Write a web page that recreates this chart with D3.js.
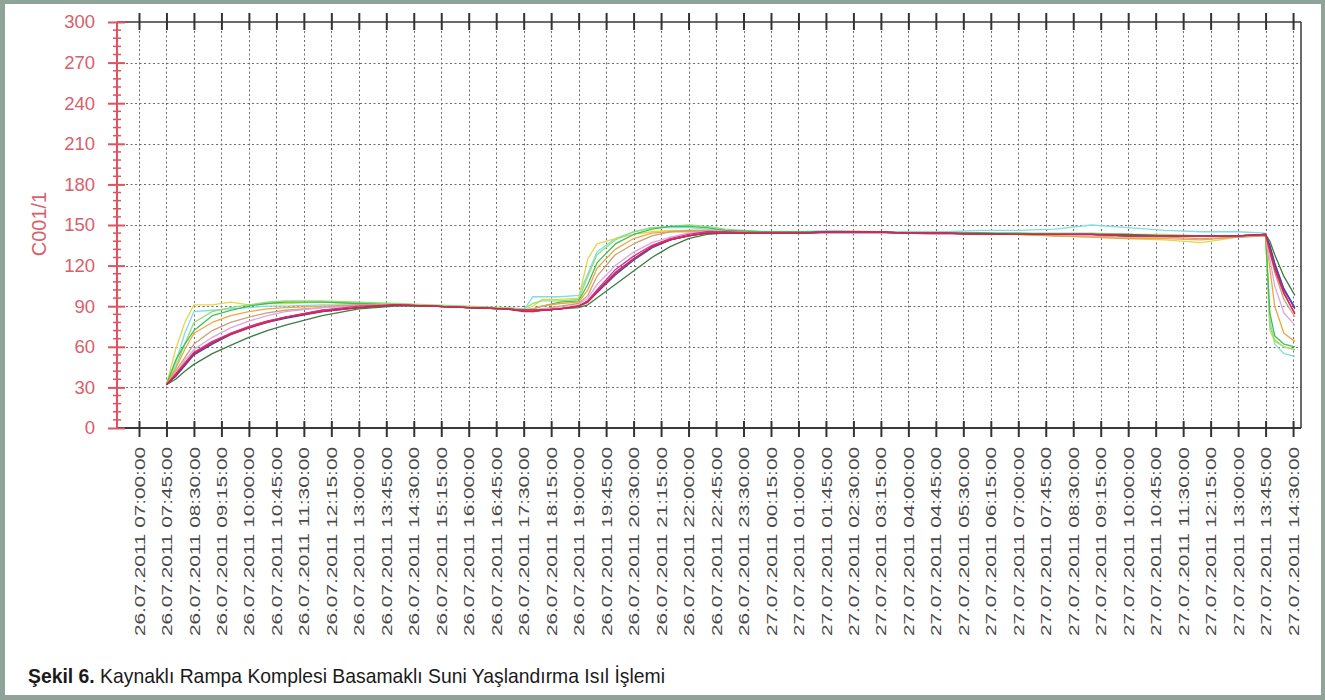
<!DOCTYPE html>
<html>
<head>
<meta charset="utf-8">
<script src="https://cdn.jsdelivr.net/npm/d3@7"></script>
<style>
  html, body { margin: 0; padding: 0; background: #ffffff; }
  svg { display: block; }
</style>
</head>
<body>
<svg id="chart" width="1325" height="700"></svg>
<script>
// ---------- DATA ----------
const yTickValues = [0, 30, 60, 90, 120, 150, 180, 210, 240, 270, 300];
const yAxisTitle = "C001/1";
const caption = ["Şekil 6.", " Kaynaklı Rampa Komplesi Basamaklı Suni Yaşlandırma Isıl İşlemi"];

const xTickLabels = [
  "26.07.2011 07:00:00","26.07.2011 07:45:00","26.07.2011 08:30:00","26.07.2011 09:15:00",
  "26.07.2011 10:00:00","26.07.2011 10:45:00","26.07.2011 11:30:00","26.07.2011 12:15:00",
  "26.07.2011 13:00:00","26.07.2011 13:45:00","26.07.2011 14:30:00","26.07.2011 15:15:00",
  "26.07.2011 16:00:00","26.07.2011 16:45:00","26.07.2011 17:30:00","26.07.2011 18:15:00",
  "26.07.2011 19:00:00","26.07.2011 19:45:00","26.07.2011 20:30:00","26.07.2011 21:15:00",
  "26.07.2011 22:00:00","26.07.2011 22:45:00","26.07.2011 23:30:00","27.07.2011 00:15:00",
  "27.07.2011 01:00:00","27.07.2011 01:45:00","27.07.2011 02:30:00","27.07.2011 03:15:00",
  "27.07.2011 04:00:00","27.07.2011 04:45:00","27.07.2011 05:30:00","27.07.2011 06:15:00",
  "27.07.2011 07:00:00","27.07.2011 07:45:00","27.07.2011 08:30:00","27.07.2011 09:15:00",
  "27.07.2011 10:00:00","27.07.2011 10:45:00","27.07.2011 11:30:00","27.07.2011 12:15:00",
  "27.07.2011 13:00:00","27.07.2011 13:45:00","27.07.2011 14:30:00"
];
const xDomain = ["26.07.2011 06:24:00", "27.07.2011 14:43:00"];

const sampleTimes = [
  "26.07.2011 07:45","26.07.2011 08:00","26.07.2011 08:15","26.07.2011 08:30","26.07.2011 09:00",
  "26.07.2011 09:30","26.07.2011 10:00","26.07.2011 10:30","26.07.2011 11:00","26.07.2011 12:00",
  "26.07.2011 13:00","26.07.2011 14:00","26.07.2011 15:00","26.07.2011 16:00","26.07.2011 17:00",
  "26.07.2011 17:30","26.07.2011 17:45","26.07.2011 18:00","26.07.2011 18:30","26.07.2011 19:00",
  "26.07.2011 19:15","26.07.2011 19:30","26.07.2011 20:00","26.07.2011 20:30","26.07.2011 21:00",
  "26.07.2011 21:30","26.07.2011 22:00","26.07.2011 22:30","26.07.2011 23:00","27.07.2011 00:00",
  "27.07.2011 01:00","27.07.2011 02:00","27.07.2011 03:00","27.07.2011 04:00","27.07.2011 05:00",
  "27.07.2011 06:00","27.07.2011 07:00","27.07.2011 08:00","27.07.2011 09:00","27.07.2011 10:00",
  "27.07.2011 11:00","27.07.2011 12:00","27.07.2011 13:00","27.07.2011 13:45","27.07.2011 13:52",
  "27.07.2011 14:00","27.07.2011 14:15","27.07.2011 14:33"
];

const cyan = [32,48,70,86,87,88,89,90,90,91,91,91,90,89,88,87,97,97,97,98,114,130,140,145,148,148,148,147,146,145,145,146,145,145,145,146,146,147,150,148,146,145,145,144,80,62,55,53];
const yellow = [32,58,78,91,91,93,91,92,92,93,92,91,90,89,88,87,90,95,95,96,125,136,140,143,145,146,146,146,145,144,144,145,145,144,144,144,143,142,141,140,139,137,141,143,72,64,60,58];
const lightGreen = [32,45,62,78,86,89,91,93,94,94,93,92,91,90,89,88,92,94,94,95,112,128,139,145,148,149,150,149,147,145,145,145,144,144,144,144,144,144,144,143,143,142,142,143,75,65,60,58];
const green = [32,50,62,72,83,87,90,92,93,93,92,91,90,89,88,87,88,90,93,94,106,122,136,143,147,149,149,148,146,145,145,145,145,144,144,144,144,143,143,143,142,142,142,143,85,68,62,60];
const orange = [32,44,58,70,78,83,86,88,89,90,91,91,90,89,88,87,88,90,92,93,102,118,132,140,144,145,145,145,145,144,144,144,144,144,143,143,143,142,141,140,140,139,141,142,118,90,70,64];
const tan = [32,42,52,62,72,78,82,85,87,89,91,91,90,89,88,87,87,88,90,92,98,112,128,136,142,145,146,146,145,144,144,144,144,144,143,143,143,142,142,141,141,140,141,142,130,115,95,82];
const lavender = [32,40,50,58,67,74,79,83,86,89,90,91,90,89,88,87,87,88,89,91,96,106,120,130,137,141,144,145,145,144,144,144,144,144,143,143,143,143,142,142,142,142,142,143,125,105,85,76];
const darkGreen = [32,36,42,47,55,61,67,72,76,83,88,90,90,89,88,87,86,87,88,89,91,96,106,116,126,134,140,143,144,144,144,145,145,144,144,144,143,143,143,143,142,142,142,143,138,128,112,98];
const purple = [32,39,47,55,63,70,75,79,82,87,89,91,90,89,88,87,87,87,88,90,94,101,115,125,134,139,142,144,144,144,144,145,145,144,144,143,143,143,143,142,142,142,142,143,134,121,102,88];
const blue = [32,38,46,54,62,69,74,78,81,86,89,91,90,89,88,87,87,87,88,90,93,100,113,124,133,139,142,144,144,144,144,145,145,144,144,143,143,143,143,142,142,142,142,143,135,122,103,89];
const magenta = [32,40,48,56,64,70,75,79,82,87,90,91,90,89,88,87,87,87,88,90,94,102,117,127,135,140,143,145,145,144,144,145,145,144,144,143,143,143,143,142,142,142,142,143,130,117,99,85];
const red = [32,39,47,55,63,69,74,78,82,86,89,91,90,89,88,86,86,87,88,90,93,100,114,125,134,139,142,144,144,144,144,145,145,144,144,143,143,143,143,142,142,142,142,143,132,119,100,84];

const seriesNames = ["cyan","yellow","lightGreen","green","orange","tan","lavender","darkGreen","purple","blue","magenta","red"];
const seriesValues = [cyan, yellow, lightGreen, green, orange, tan, lavender, darkGreen, purple, blue, magenta, red];
const seriesColors = ["#7fdde6","#e6d64c","#8fe07a","#3fbf55","#f0a640","#c9a276","#dca6e4","#3c7c44","#8a3fa6","#3346c4","#d62f94","#e3232f"];

// ---------- CHART ----------
const W = 1325, H = 700;
const svg = d3.select("#chart");
const plot = { left: 117, right: 1301, top: 22, bottom: 428 };

// frame
svg.append("rect").attr("x", 0).attr("y", 0).attr("width", W).attr("height", H).attr("fill", "#8fa399");
svg.append("rect").attr("x", 5).attr("y", 4).attr("width", W - 9).attr("height", H - 9).attr("fill", "#ffffff");

const pTime = d3.timeParse("%d.%m.%Y %H:%M:%S");
const pSample = d3.timeParse("%d.%m.%Y %H:%M");

const x = d3.scaleTime().domain(xDomain.map(pTime)).range([plot.left, plot.right]);
const y = d3.scaleLinear().domain([0, 300]).range([plot.bottom, plot.top]);

const tickDates = xTickLabels.map(pTime);

// grid
const grid = svg.append("g").attr("stroke", "#6d6d6d").attr("stroke-width", 1).attr("stroke-dasharray", "2,2.5");
grid.selectAll("line.v").data(tickDates).join("line").attr("class", "v")
  .attr("x1", d => Math.round(x(d)) + 0.5).attr("x2", d => Math.round(x(d)) + 0.5)
  .attr("y1", plot.top).attr("y2", plot.bottom);
grid.selectAll("line.h").data(yTickValues.filter(v => v > 0 && v < 300)).join("line").attr("class", "h")
  .attr("x1", plot.left).attr("x2", plot.right)
  .attr("y1", d => Math.round(y(d)) + 0.5).attr("y2", d => Math.round(y(d)) + 0.5);

// frame lines (top, bottom, right)
const frame = svg.append("g").attr("stroke", "#3a3a3a");
frame.append("line").attr("x1", plot.left).attr("x2", plot.right).attr("y1", plot.top).attr("y2", plot.top).attr("stroke-width", 1.5);
frame.append("line").attr("x1", plot.left).attr("x2", plot.right).attr("y1", plot.bottom).attr("y2", plot.bottom).attr("stroke-width", 2);
frame.append("line").attr("x1", plot.right).attr("x2", plot.right).attr("y1", plot.top).attr("y2", plot.bottom).attr("stroke-width", 1.5);

// series lines
const line = d3.line()
  .x((d, i) => x(pSample(sampleTimes[i])))
  .y(d => y(d));
const lines = svg.append("g").attr("fill", "none").attr("stroke-width", 1.3).attr("stroke-linejoin", "round");
seriesValues.forEach((vals, k) => {
  lines.append("path").datum(vals).attr("d", line).attr("stroke", seriesColors[k]).attr("class", seriesNames[k]);
});

// x axis ticks top & bottom
const xTop = d3.axisTop(x).tickValues(tickDates).tickSize(8).tickFormat("");
const gTop = svg.append("g").attr("transform", `translate(0,${plot.top})`).call(xTop);
gTop.select(".domain").remove();
gTop.selectAll(".tick line").attr("stroke", "#333").attr("stroke-width", 2).attr("y1", 8).attr("y2", -9);

const xBot = d3.axisBottom(x).tickValues(tickDates).tickSize(9).tickFormat("");
const gBot = svg.append("g").attr("transform", `translate(0,${plot.bottom})`).call(xBot);
gBot.select(".domain").remove();
gBot.selectAll(".tick line").attr("stroke", "#333").attr("stroke-width", 2).attr("y1", -7).attr("y2", 9);

// x labels
const xl = svg.append("g");
tickDates.forEach((d, i) => {
  const g = xl.append("g").attr("transform", `translate(${x(d)},447) rotate(-90)`);
  g.append("text")
    .attr("text-anchor", "end").attr("dy", "0.36em")
    .attr("font-family", "Arial, 'Liberation Sans', sans-serif").attr("font-size", 15.5)
    .attr("fill", "#4a4a4a")
    .attr("textLength", 189).attr("lengthAdjust", "spacingAndGlyphs")
    .text(xTickLabels[i]);
});

// y axis (red)
const red1 = "#e0525f";
const yAxis = d3.axisLeft(y).tickValues(yTickValues).tickSize(9).tickPadding(13);
const gY = svg.append("g").attr("transform", `translate(${plot.left},0)`).call(yAxis);
gY.select(".domain").attr("stroke", red1).attr("stroke-width", 2).attr("d", `M0,${plot.top}V${plot.bottom}`);
gY.selectAll(".tick line").attr("stroke", red1).attr("stroke-width", 2).attr("x1", 8).attr("x2", -9);
gY.selectAll(".tick text").attr("fill", "#d8606b").attr("font-family", "Arial, 'Liberation Sans', sans-serif").attr("font-size", 18.5);
// minor ticks
const minorVals = d3.range(0, 300.1, 6).filter(v => v % 30 !== 0);
svg.append("g").selectAll("line").data(minorVals).join("line")
  .attr("x1", plot.left - 4).attr("x2", plot.left + 4)
  .attr("y1", d => y(d)).attr("y2", d => y(d))
  .attr("stroke", red1).attr("stroke-width", 1.5);

// y title
svg.append("text")
  .attr("transform", "translate(46,224) rotate(-90)")
  .attr("text-anchor", "middle")
  .attr("font-family", "Arial, 'Liberation Sans', sans-serif").attr("font-size", 20)
  .attr("fill", "#d8606b")
  .text(yAxisTitle);

// caption
const cap = svg.append("text").attr("x", 28).attr("y", 683)
  .attr("font-family", "'Liberation Sans Narrow', 'Arial Narrow', Arial, sans-serif").attr("font-size", 21)
  .attr("fill", "#1a1a1a")
  .attr("textLength", 637).attr("lengthAdjust", "spacingAndGlyphs");
cap.append("tspan").attr("font-weight", "bold").text(caption[0]);
cap.append("tspan").text(caption[1]);
</script>
</body>
</html>
